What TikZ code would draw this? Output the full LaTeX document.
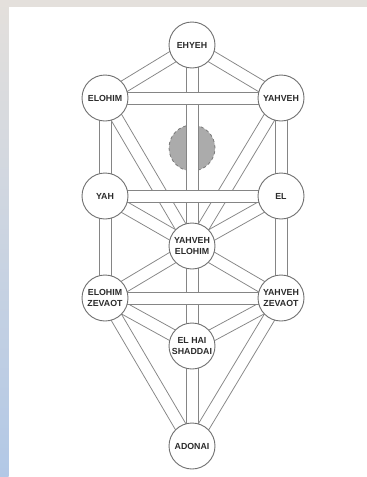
\documentclass[tikz,border=0pt]{standalone}
\usepackage{fontspec}
\setmainfont{Liberation Sans}
\usetikzlibrary{backgrounds,calc}
\definecolor{linegray}{HTML}{858585}
\definecolor{ringgray}{HTML}{707070}
\definecolor{textgray}{HTML}{2B2B2B}
\definecolor{daathfill}{HTML}{ABABAB}
\definecolor{daathline}{HTML}{7A7A7A}
\definecolor{topgray}{HTML}{E4E0DC}
\definecolor{sideblue}{HTML}{B2C8E6}
\newcommand\chan[2]{%
  \fill[white] ($(#1.center)!6pt!90:(#2.center)$) -- ($(#2.center)!6pt!-90:(#1.center)$)
     -- ($(#2.center)!6pt!90:(#1.center)$) -- ($(#1.center)!6pt!-90:(#2.center)$) -- cycle;
  \draw[channelline] ($(#1.center)!6pt!90:(#2.center)$) -- ($(#2.center)!6pt!-90:(#1.center)$);
  \draw[channelline] ($(#2.center)!6pt!90:(#1.center)$) -- ($(#1.center)!6pt!-90:(#2.center)$);}
\begin{document}
\begin{tikzpicture}[x=1pt,y=-1pt,
  sefira/.style={circle,draw=ringgray,line width=0.9pt,fill=white,minimum size=46pt,inner sep=0pt,align=center,
    font=\bfseries\fontsize{8.8}{10.5}\selectfont,text=textgray},
  daath/.style={circle,draw=daathline,dashed,line width=0.8pt,fill=daathfill,minimum size=46pt,inner sep=0pt},
  channelline/.style={draw=linegray,line width=0.75pt}]
\useasboundingbox (0,0) rectangle (367,477);
\node[sefira] (kether)    at (192,45)  {EHYEH};
\node[sefira] (binah)     at (105,98)  {ELOHIM};
\node[sefira] (chokmah)   at (281,98)  {YAHVEH};
\node[sefira] (geburah)   at (105,196) {YAH};
\node[sefira] (chesed)    at (281,196) {EL};
\node[sefira] (tiphareth) at (192,246) {YAHVEH\\ELOHIM};
\node[sefira] (hod)       at (105,298) {ELOHIM\\ZEVAOT};
\node[sefira] (netzach)   at (281,298) {YAHVEH\\ZEVAOT};
\node[sefira] (yesod)     at (192,346) {EL HAI\\SHADDAI};
\node[sefira] (malkuth)   at (192,446) {ADONAI};
\begin{pgfonlayer}{background}
  \fill[white] (0,0) rectangle (367,477);
  \shade[top color=topgray,bottom color=sideblue] (0,0) rectangle (8.5,477);
  \fill[topgray] (0,0) rectangle (367,7);
  \node[daath] (daath) at (192,148) {};
  % vertical channels
  \chan{kether}{tiphareth}
  \chan{binah}{geburah}
  \chan{geburah}{hod}
  \chan{chokmah}{chesed}
  \chan{chesed}{netzach}
  \chan{tiphareth}{yesod}
  \chan{yesod}{malkuth}
  % diagonal channels
  \chan{kether}{binah}
  \chan{kether}{chokmah}
  \chan{binah}{tiphareth}
  \chan{chokmah}{tiphareth}
  \chan{geburah}{tiphareth}
  \chan{chesed}{tiphareth}
  \chan{tiphareth}{hod}
  \chan{tiphareth}{netzach}
  \chan{hod}{yesod}
  \chan{netzach}{yesod}
  \chan{hod}{malkuth}
  \chan{netzach}{malkuth}
  % horizontal channels
  \chan{binah}{chokmah}
  \chan{geburah}{chesed}
  \chan{hod}{netzach}
\end{pgfonlayer}
\end{tikzpicture}
\end{document}
